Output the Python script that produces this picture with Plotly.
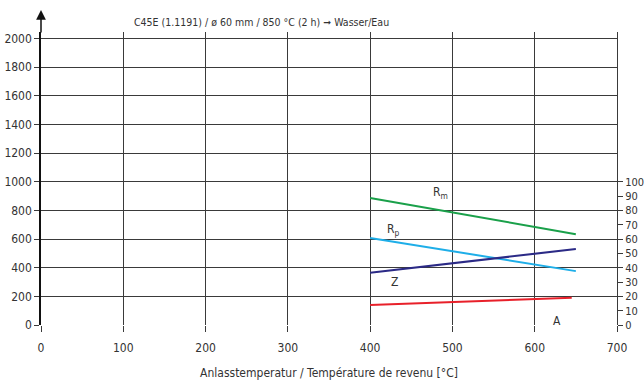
import plotly.graph_objects as go

temps = [400, 650]
rm_vals = [887, 634]
rp_vals = [608, 376]
z_vals = [36.5, 53]
a_temps = [400, 645]
a_vals = [14, 19]

x_ticks = [0, 100, 200, 300, 400, 500, 600, 700]
y_ticks = list(range(0, 2001, 200))
y2_ticks = list(range(0, 101, 10))

FONT = "DejaVu Sans Condensed, Liberation Sans Narrow, sans-serif"
TXT = "#333333"
GRID = "#3a3a3a"

fig = go.Figure()
fig.add_trace(go.Scatter(x=temps, y=rm_vals, mode="lines", line=dict(color="#1aa04a", width=2), showlegend=False))
fig.add_trace(go.Scatter(x=temps, y=rp_vals, mode="lines", line=dict(color="#1eaee8", width=2), showlegend=False))
fig.add_trace(go.Scatter(x=temps, y=z_vals, mode="lines", line=dict(color="#2b2a86", width=2), yaxis="y2", showlegend=False))
fig.add_trace(go.Scatter(x=a_temps, y=a_vals, mode="lines", line=dict(color="#e8202a", width=2), yaxis="y2", showlegend=False))

fig.update_layout(
    width=644, height=381,
    margin=dict(l=41, r=27, t=32, b=56),
    paper_bgcolor="white", plot_bgcolor="white",
    font=dict(family=FONT, size=12, color=TXT),
    xaxis=dict(range=[0, 700], tickvals=x_ticks, showgrid=True, gridcolor=GRID, gridwidth=1,
               ticks="outside", ticklen=6, tickcolor=GRID, zeroline=False, showline=False,
               automargin=False, ticklabelstandoff=6,
               title=dict(text="Anlasstemperatur / Température de revenu [°C]", standoff=14,
                          font=dict(size=12, color=TXT)),
               tickfont=dict(size=12, color=TXT)),
    yaxis=dict(range=[0, 2045], tickvals=y_ticks, showgrid=True, gridcolor=GRID, gridwidth=1,
               ticks="outside", ticklen=5, tickcolor=GRID, zeroline=False, automargin=False,
               showline=True, linecolor="#111111", linewidth=1.5,
               tickfont=dict(size=12, color=TXT)),
    yaxis2=dict(range=[0, 204.5], tickvals=y2_ticks, overlaying="y", side="right",
                showgrid=False, ticks="outside", ticklen=5, tickcolor=GRID, zeroline=False,
                showline=True, linecolor=GRID, linewidth=1, automargin=False,
                tickfont=dict(size=11, color=TXT)),
)

fig.add_annotation(text="C45E (1.1191) / ø 60 mm / 850 °C (2 h) ➞ Wasser/Eau",
                   xref="x", yref="paper", x=268, y=1, xanchor="center", yanchor="middle", yshift=10,
                   showarrow=False, font=dict(size=10.5, color=TXT))
fig.add_annotation(text="", xref="x", yref="paper", x=0, y=1.075, ax=0, ay=24,
                   showarrow=True, arrowhead=2, arrowsize=1.3, arrowwidth=1.5, arrowcolor="#111111")

labels = [("R<sub>m</sub>", 485, 921, "y"), ("R<sub>p</sub>", 428, 663, "y"),
          ("Z", 430, 30, "y2"), ("A", 627, 3, "y2")]
for t, lx, ly, yr in labels:
    fig.add_annotation(text=t, x=lx, y=ly, xref="x", yref=yr, showarrow=False,
                       font=dict(size=12, color=TXT))

fig.write_html("out.html", config={"displayModeBar": False},
               post_script="document.body.style.margin='0';document.body.style.padding='0';")
